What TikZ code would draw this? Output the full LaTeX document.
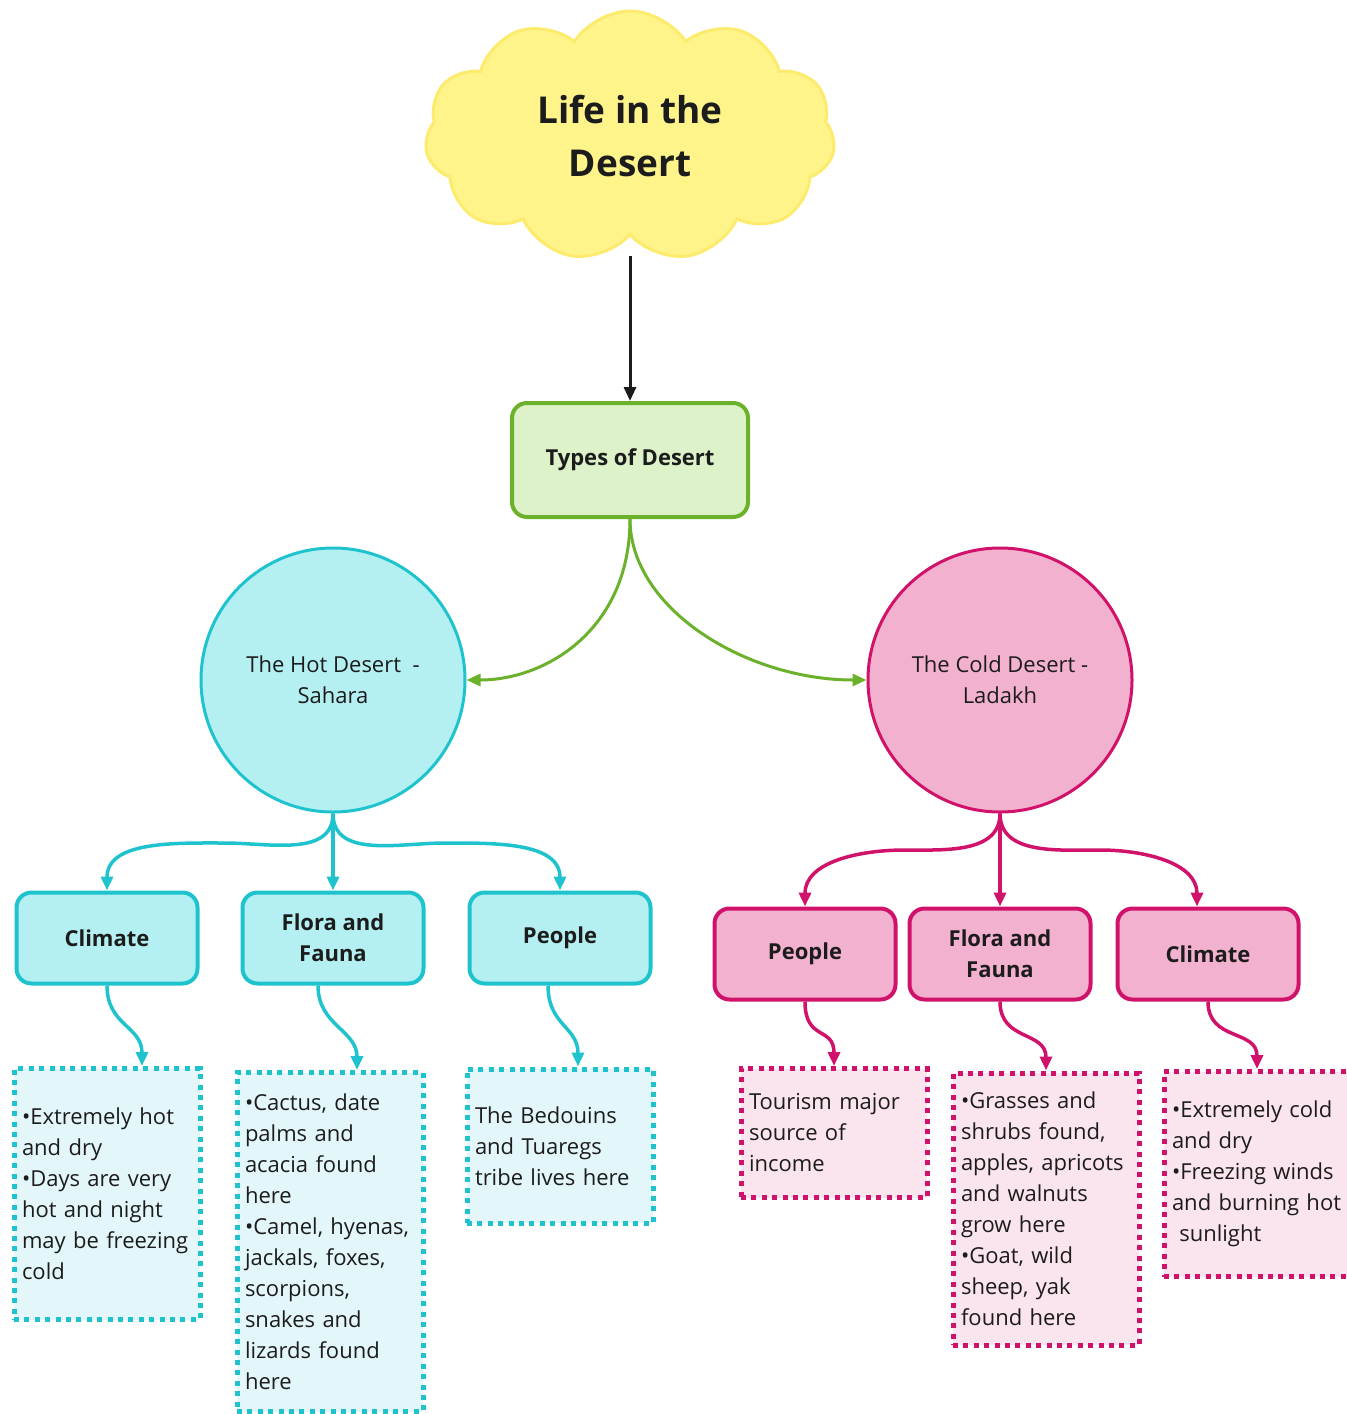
\documentclass[tikz,border=0pt]{standalone}
\usepackage{fontspec}
\setmainfont{Open Sans}
\usetikzlibrary{shapes.symbols,arrows.meta}

\definecolor{hotline}{HTML}{1EC3CE}
\definecolor{hotfill}{HTML}{B4F0F1}
\definecolor{hotpale}{HTML}{E3F7FA}
\definecolor{coldline}{HTML}{D0126A}
\definecolor{coldfill}{HTML}{F3B1D0}
\definecolor{coldpale}{HTML}{FAE4EE}
\definecolor{typeline}{HTML}{6BB12B}
\definecolor{typefill}{HTML}{DDF2C9}
\definecolor{cloudfill}{HTML}{FFF48A}
\definecolor{cloudline}{HTML}{FDEB6E}
\definecolor{inkcol}{HTML}{1C1C1C}

\tikzstyle{node_cloud} = [cloud, cloud puffs=11, cloud puff arc=115, aspect=1.66, minimum width=205pt, minimum height=125pt, inner sep=0pt, fill=cloudfill, draw=cloudline, line width=1.5pt, align=center, text=inkcol, font=\fontsize{18.5}{26.5}\selectfont\bfseries]
\tikzstyle{node_type} = [rectangle, rounded corners=7.5pt, minimum width=118pt, minimum height=57pt, fill=typefill, draw=typeline, line width=2pt, text=inkcol, font=\fontsize{11}{15.5}\selectfont\bfseries]
\tikzstyle{node_circle} = [circle, minimum size=132pt, inner sep=0pt, line width=1.5pt, align=center, text=inkcol, font=\fontsize{11}{15.5}\selectfont]
\tikzstyle{node_box} = [rectangle, rounded corners=7.5pt, minimum width=90.5pt, minimum height=45.5pt, line width=2pt, align=center, text=inkcol, font=\fontsize{11}{15.5}\selectfont\bfseries]
\tikzstyle{node_info} = [rectangle, minimum width=93pt, inner xsep=4pt, text width=85pt, line width=2.5pt, dash pattern=on 2.5pt off 2.7pt, align=left, text=inkcol, font=\fontsize{11}{15.5}\selectfont]
\tikzstyle{node_hot} = [fill=hotfill, draw=hotline]
\tikzstyle{node_cold} = [fill=coldfill, draw=coldline]
\tikzstyle{info_hot} = [fill=hotpale, draw=hotline]
\tikzstyle{info_cold} = [fill=coldpale, draw=coldline]
\tikzstyle{edge_main} = [line width=1.5pt, draw=inkcol, -{Triangle[length=7pt,width=6pt]}]
\tikzstyle{edge_type} = [edge_main, draw=typeline]
\tikzstyle{edge_hot} = [edge_main, draw=hotline, line width=1.75pt]
\tikzstyle{edge_cold} = [edge_main, draw=coldline, line width=1.75pt]

\begin{document}
\begin{tikzpicture}[x=0.5pt, y=-0.5pt]
			\useasboundingbox (0,0) rectangle (1347,1414);
			% top
			\node (title) at (630,136) [node_cloud] {Life in the\\Desert};
			\coordinate (title_foot) at (630,256);
			\node (types) at (630,460) [node_type] {Types of Desert};
			\node (hot) at (333,680) [node_circle, node_hot] {The Hot Desert~ -\\Sahara};
			\node (cold) at (1000,680) [node_circle, node_cold] {The Cold Desert -\\Ladakh};
			% hot desert
			\node (hot_climate) at (107,938) [node_box, node_hot] {Climate};
			\node (hot_flora) at (333,938) [node_box, node_hot] {Flora and\\Fauna};
			\node (hot_people) at (560,938) [node_box, node_hot] {People};
			\node (hot_climate_info) at (107,1194) [node_info, info_hot, minimum height=125.5pt] {•Extremely hot\\and dry\\•Days are very\\hot and night\\may be freezing\\cold};
			\node (hot_flora_info) at (330,1242) [node_info, info_hot, minimum height=169.5pt] {•Cactus, date\\palms and\\acacia found\\here\\•Camel, hyenas,\\jackals, foxes,\\scorpions,\\snakes and\\lizards found\\here};
			\node (hot_people_info) at (560,1146) [node_info, info_hot, minimum height=77pt] {The Bedouins\\and Tuaregs\\tribe lives here};
			% cold desert
			\node (cold_people) at (805,954) [node_box, node_cold] {People};
			\node (cold_flora) at (1000,954) [node_box, node_cold] {Flora and\\Fauna};
			\node (cold_climate) at (1208,954) [node_box, node_cold] {Climate};
			\node (cold_people_info) at (834,1133) [node_info, info_cold, minimum height=64.5pt] {Tourism major\\source of\\income};
			\node (cold_flora_info) at (1046,1209) [node_info, info_cold, minimum height=136pt] {•Grasses and\\shrubs found,\\apples, apricots\\and walnuts\\grow here\\•Goat, wild\\sheep, yak\\found here};
			\node (cold_climate_info) at (1257,1174) [node_info, info_cold, minimum height=102.5pt] {•Extremely cold\\and dry\\•Freezing winds\\and burning hot\\\ sunlight};
			% connectors
			\draw[edge_main] (title_foot) -- (types);
			\draw[edge_type] (types.south) .. controls +(0,110) and +(80,0) .. (hot.east);
			\draw[edge_type] (types.south) .. controls +(0,90) and +(-120,0) .. (cold.west);
			\draw[edge_hot] (hot.south) to[out=-90,in=0] (225,843) to[out=180,in=90] (hot_climate.north);
			\draw[edge_hot] (hot.south) -- (hot_flora.north);
			\draw[edge_hot] (hot.south) to[out=-90,in=180] (445,843) to[out=0,in=90] (hot_people.north);
			\draw[edge_cold] (cold.south) to[out=-90,in=0] (905,850) to[out=180,in=90] (cold_people.north);
			\draw[edge_cold] (cold.south) -- (cold_flora.north);
			\draw[edge_cold] (cold.south) to[out=-90,in=180] (1100,850) to[out=0,in=90] ([xshift=-5.5pt]cold_climate.north);
			\draw[edge_hot] (hot_climate.south) .. controls +(0,40) and +(0,-40) .. ([xshift=17.5pt]hot_climate_info.north);
			\draw[edge_hot] ([xshift=-7.5pt]hot_flora.south) .. controls +(0,40) and +(0,-40) .. ([xshift=13.5pt]hot_flora_info.north);
			\draw[edge_hot] ([xshift=-6pt]hot_people.south) .. controls +(0,40) and +(0,-40) .. ([xshift=9pt]hot_people_info.north);
			\draw[edge_cold] (cold_people.south) .. controls +(0,40) and +(0,-40) .. (cold_people_info.north);
			\draw[edge_cold] (cold_flora.south) .. controls +(0,40) and +(0,-40) .. (cold_flora_info.north);
			\draw[edge_cold] (cold_climate.south) .. controls +(0,40) and +(0,-40) .. (cold_climate_info.north);
		\end{tikzpicture}
\end{document}
